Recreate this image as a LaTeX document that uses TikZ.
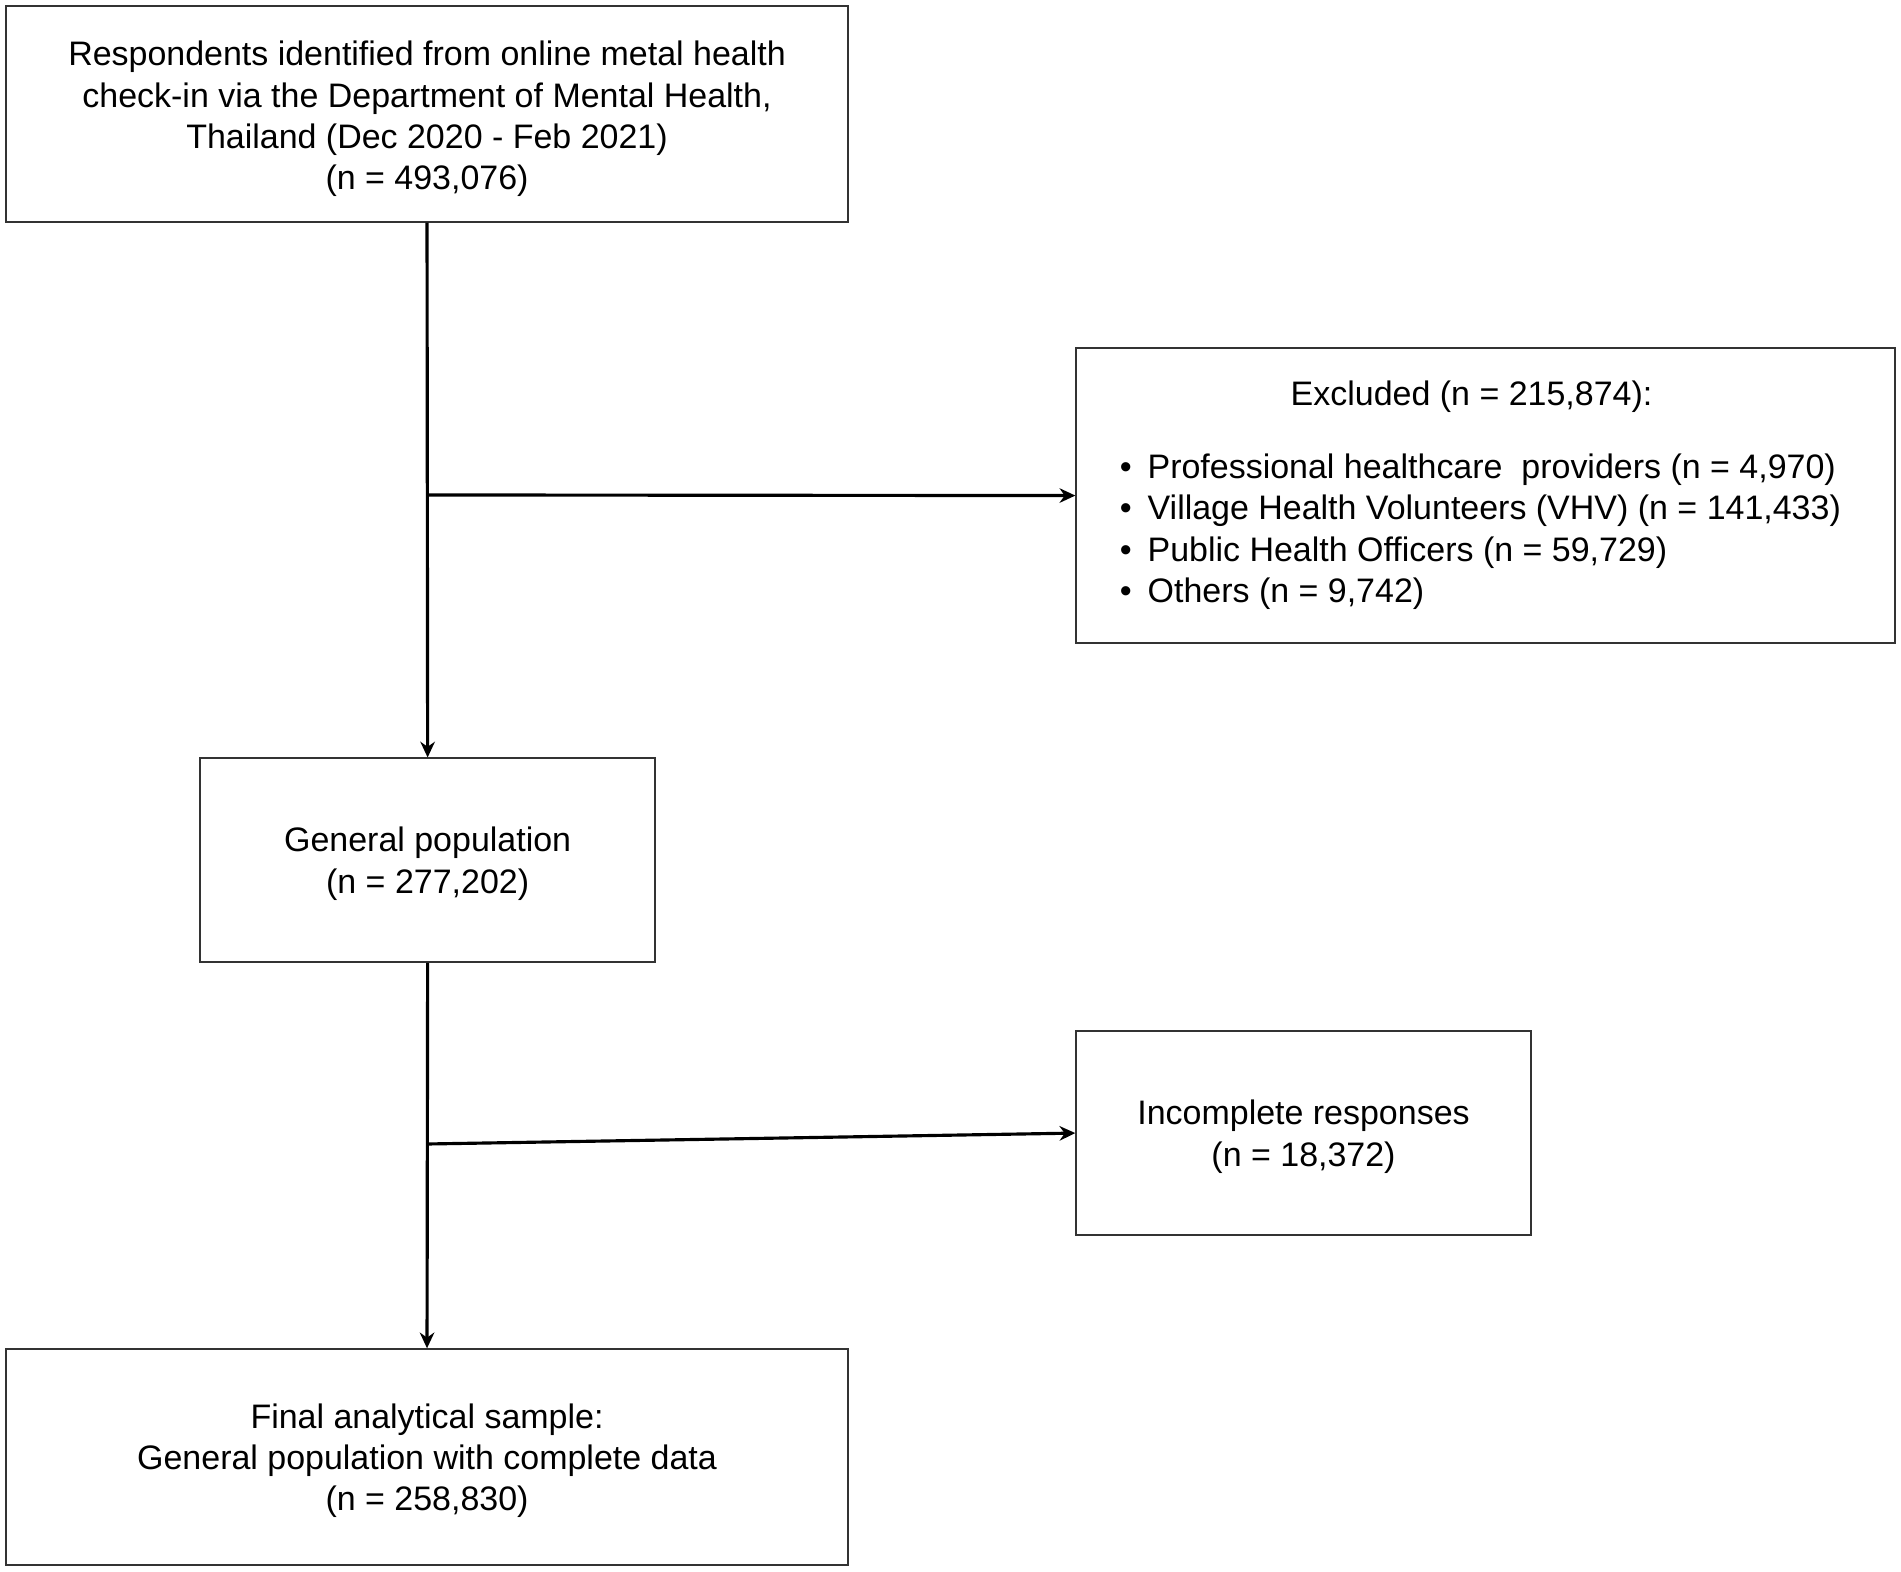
\documentclass[tikz,border=0pt]{standalone}
\usepackage{fontspec}
\setmainfont{Liberation Sans}
\usetikzlibrary{arrows.meta}
\begin{document}
\begin{tikzpicture}[x=1pt,y=-1pt,
  box/.style={draw=black!80,line width=1.2pt,inner sep=0pt},
  txt/.style={inner sep=0pt,align=center,font=\fontsize{28}{34}\selectfont},
  ltxt/.style={inner sep=0pt,align=left,font=\fontsize{28}{34}\selectfont},
  conn/.style={draw=black,line width=2.6pt,-{Stealth[length=13pt,width=12pt]}}]
\useasboundingbox (0,0) rectangle (1567,1295);
\fill[white] (0,0) rectangle (1567,1295);
\node[box,minimum width=694pt,minimum height=178pt] (top) at (352,94) {};
\node[txt] (topt) at ([yshift=-4pt]top.center)
  {Respondents identified from online metal health\\check-in via the Department of Mental Health,\\Thailand (Dec 2020 - Feb 2021)\\(n = 493,076)};
\node[box,minimum width=675pt,minimum height=243pt] (excl) at (1224.5,408.5) {};
\node[ltxt,anchor=base] (exclt) at (1213,334) {Excluded (n = 215,874):};
\node[ltxt,anchor=north west] (excll) at (923,374)
  {\textbullet\hspace{13pt}Professional healthcare\ \ providers (n = 4,970)\\
   \textbullet\hspace{13pt}Village Health Volunteers (VHV) (n = 141,433)\\
   \textbullet\hspace{13pt}Public Health Officers (n = 59,729)\\
   \textbullet\hspace{13pt}Others (n = 9,742)};
\node[box,minimum width=375pt,minimum height=168pt] (gen) at (352.5,709) {};
\node[txt] (gent) at ([yshift=-3pt]gen.center) {General population\\(n = 277,202)};
\node[box,minimum width=375pt,minimum height=168pt] (inc) at (1074.5,934) {};
\node[txt] (inct) at ([yshift=-3pt]inc.center) {Incomplete responses\\(n = 18,372)};
\node[box,minimum width=694pt,minimum height=178pt] (final) at (352,1201) {};
\node[txt] (finalt) at ([yshift=-3pt]final.center)
  {Final analytical sample:\\General population with complete data\\(n = 258,830)};
\coordinate (j1) at (352,408);
\coordinate (j2) at (352,943);
\draw[conn] (top.south) -- (gen.north);
\draw[conn] (j1) -- (excl.west);
\draw[conn] (gen.south) -- (final.north);
\draw[conn] (j2) -- (inc.west);
\end{tikzpicture}
\end{document}
